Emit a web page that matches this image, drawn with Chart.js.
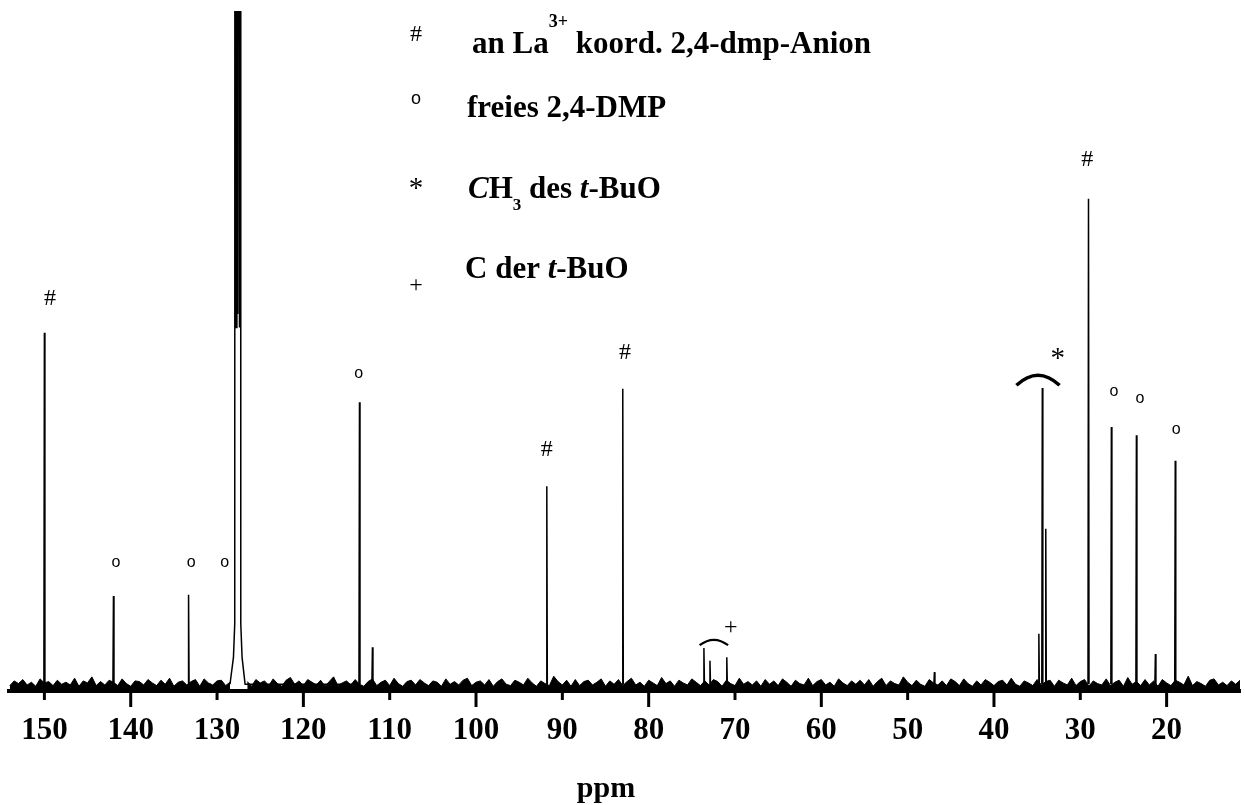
<!DOCTYPE html>
<html>
<head>
<meta charset="utf-8">
<title>13C-NMR</title>
<script src="https://cdn.jsdelivr.net/npm/chart.js@4"></script>
<style>
    body { margin: 0; background: #fff; }
    canvas { display: block; }
</style>
</head>
<body>
<canvas id="spectrum" width="1245" height="805"></canvas>
<script>
// tick labels on the ppm axis
const tickLabels = [150, 140, 130, 120, 110, 100, 90, 80, 70, 60, 50, 40, 30, 20];

// signals: shift (ppm) and intensity
const peakShift = [150.0, 142.0, 133.3, 113.5, 112.0, 91.8, 83.0,
    73.6, 72.9, 70.95, 46.9, 34.8, 34.4, 34.0, 29.05, 26.4, 23.5, 21.3, 19.0];
const peakHeight = [52.2, 13.1, 13.3, 41.9, 5.5, 29.4, 43.9,
    5.4, 3.5, 4.0, 1.8, 7.5, 44.0, 23.1, 72.1, 38.2, 37.0, 4.5, 33.2];

// solvent multiplet (C6D6), runs far off scale
const solventShift = [128.5, 128.1, 127.95, 127.9, 127.8, 127.7, 127.6, 127.5, 127.4, 127.3, 127.25, 127.1, 126.75];
const solventLevel = [0, 4, 9, 400, 53, 400, 55, 400, 53, 400, 9, 4, 0];

// baseline noise in tenths of a unit, one value every 0.5 ppm from 154 down to 11.5
const noiseStart = 154;
const noiseStep = 0.5;
const noise = [
    -2, 5, 1, 7, -1, 3, -3, 8, 2, 4, -2, 6, 0, 3, -1, 9, -3, 5, 2, 11, -2, 4,
    -1, 6, 3, -2, 8, 1, -3, 5, 4, -1, 7, 2, -2, 6, 0, 9, -3, 3, 5, -1, 4, 7,
    -3, 8, 2, -1, 5, 6, -2, 3, 0, 9, -1, 4, -3, 7, 2, 5, -2, 8, 1, -3, 6, 10,
    0, 5, -2, 7, 3, -1, 6, -3, 4, 11, -2, 2, 5, -1, 7, 0, -3, 4, 8, -2, 3, 6,
    -2, 9, 1, -3, 4, 6, -1, 7, 2, -2, 5, 3, -3, 8, 0, 4, -1, 6, 9, -2, 3, 5,
    -1, 7, -3, 4, 8, 0, -2, 6, 3, -1, 9, 2, -3, 5, 1, -2, 12, 4, -1, 6, -3, 7,
    -2, 4, 6, -1, 3, 8, -3, 5, 0, 7, -2, 4, 9, -1, 3, -3, 6, 2, -2, 10, 1, 5,
    -3, 6, 2, -1, 8, 3, -2, 5, -1, 7, 4, -3, 6, 1, -2, 9, 0, 4, -1, 5, -3, 7,
    0, 5, -2, 8, 3, -3, 6, 1, -1, 9, -2, 4, 7, -1, 3, -3, 8, 2, -2, 5, 0, 6,
    -1, 7, -3, 4, 9, -2, 5, 1, -1, 11, 3, -2, 6, 0, -3, 7, 2, -1, 5, -2, 8, 4,
    -2, 8, 1, -3, 5, -1, 7, 3, -2, 4, 6, -1, 9, 0, -3, 5, 2, -2, 7, -1, 4, 6,
    -3, 6, 2, -1, 9, -2, 4, 7, -3, 5, 1, -1, 8, -2, 3, 6, -3, 10, 0, 4, -2, 7,
    -1, 5, -3, 7, 2, -2, 6, 3, -1, 12, -2, 4, 1, -3, 6, 8, -1, 3, -2, 5, 0, 6
];

// assignment markers above the signals
const markSymbol = ['#', 'o', 'o', 'o', 'o', '#', '#', '+', '*', '#', 'o', 'o', 'o'];
const markShift = [149.35, 141.7, 133.0, 129.1, 113.6, 91.8, 82.75, 70.5, 32.6, 29.2, 26.1, 23.1, 18.9];
const markLevel = [57.2, 18.0, 18.0, 18.0, 46.1, 34.8, 49.3, 8.4, 48.9, 77.9, 43.4, 42.4, 37.9];

// brackets over grouped signals
const bracketFrom = [37.4, 74.1];
const bracketTo = [32.4, 70.8];
const bracketEnd = [44.4, 5.8];
const bracketTop = [45.9, 6.6];

// legend entries
const legendSymbol = ['#', 'o', '*', '+'];

function buildNoise() {
    const lo = Math.min(...solventShift);
    const hi = Math.max(...solventShift);
    return noise.map((n, i) => {
        const x = noiseStart - i * noiseStep;
        return {x: x, y: (x > lo && x < hi) ? null : n / 10};
    });
}

function buildPeaks() {
    const w = 0.06;
    const pts = [];
    peakShift.forEach((p, i) => {
        pts.push({x: p + w, y: 0}, {x: p, y: peakHeight[i]}, {x: p - w, y: 0}, {x: p - w - 0.01, y: null});
    });
    solventShift.forEach((s, i) => pts.push({x: s, y: solventLevel[i]}));
    pts.sort((a, b) => b.x - a.x);
    return pts;
}

function symbolFont(s, small) {
    if (s === 'o') {
        return (small ? 16 : 18) + 'px "Liberation Sans"';
    }
    return (s === '*' ? 29 : 24) + 'px "Liberation Serif"';
}

function drawRuns(ctx, x, y, runs) {
    runs.forEach(r => {
        ctx.font = r.font;
        ctx.fillText(r.text, x, y + (r.dy || 0));
        x += ctx.measureText(r.text).width;
    });
}

const decorations = {
    id: 'decorations',
    afterDraw(chart) {
        const ctx = chart.ctx;
        const xs = chart.scales.x;
        const ys = chart.scales.y;
        const area = chart.chartArea;
        ctx.save();
        ctx.fillStyle = '#000';
        ctx.strokeStyle = '#000';

        // tick marks, long every 20 ppm
        ctx.lineWidth = 3;
        tickLabels.forEach(v => {
            const px = xs.getPixelForValue(v);
            const len = v % 20 === 0 ? 16 : 9;
            ctx.beginPath();
            ctx.moveTo(px, area.bottom);
            ctx.lineTo(px, area.bottom + len);
            ctx.stroke();
        });

        // brackets
        bracketFrom.forEach((f, i) => {
            const x1 = xs.getPixelForValue(f);
            const x2 = xs.getPixelForValue(bracketTo[i]);
            const ye = ys.getPixelForValue(bracketEnd[i]);
            const yt = ys.getPixelForValue(bracketTop[i]);
            ctx.lineWidth = i === 0 ? 3.5 : 2.2;
            ctx.beginPath();
            ctx.moveTo(x1, ye);
            ctx.quadraticCurveTo((x1 + x2) / 2, 2 * yt - ye, x2, ye);
            ctx.stroke();
        });

        // markers
        ctx.textAlign = 'center';
        ctx.textBaseline = 'middle';
        markSymbol.forEach((s, i) => {
            ctx.font = symbolFont(s, true);
            const dy = s === '*' ? 4 : 0;
            ctx.fillText(s, xs.getPixelForValue(markShift[i]), ys.getPixelForValue(markLevel[i]) + dy);
        });

        // legend
        const symY = [35, 99, 189, 286];
        legendSymbol.forEach((s, i) => {
            ctx.font = symbolFont(s, false);
            ctx.fillText(s, 416, symY[i]);
        });
        ctx.textAlign = 'left';
        ctx.textBaseline = 'alphabetic';
        const bold = 'bold 31px "Liberation Serif"';
        const boldIt = 'italic bold 31px "Liberation Serif"';
        drawRuns(ctx, 472, 53, [
            {text: 'an La', font: bold},
            {text: '3+', font: 'bold 18px "Liberation Serif"', dy: -26},
            {text: ' koord. 2,4-dmp-Anion', font: bold}
        ]);
        drawRuns(ctx, 467, 117, [{text: 'freies 2,4-DMP', font: bold}]);
        drawRuns(ctx, 468, 198, [
            {text: 'C', font: boldIt},
            {text: 'H', font: bold},
            {text: '3', font: 'bold 17px "Liberation Serif"', dy: 12},
            {text: ' des ', font: bold},
            {text: 't', font: boldIt},
            {text: '-BuO', font: bold}
        ]);
        drawRuns(ctx, 465, 278, [
            {text: 'C der ', font: bold},
            {text: 't', font: boldIt},
            {text: '-BuO', font: bold}
        ]);

        // axis title
        ctx.textAlign = 'center';
        ctx.font = 'bold 30px "Liberation Serif"';
        ctx.fillText('ppm', 606, 797);
        ctx.restore();
    }
};

function spectrumChart(id) {
    const data = {
        datasets: [{
                data: buildPeaks(),
                borderColor: '#000',
                borderWidth: 1.5,
                pointRadius: 0,
                tension: 0,
                spanGaps: false,
                fill: false
            }, {
                data: buildNoise(),
                borderColor: '#000',
                backgroundColor: '#000',
                borderWidth: 1,
                pointRadius: 0,
                tension: 0,
                spanGaps: false,
                fill: 'start'
            }]
    };
    const config = {
        type: 'line',
        data: data,
        options: {
            responsive: false,
            animation: false,
            events: [],
            layout: {
                padding: {left: 9, right: 5, top: 11, bottom: 50}
            },
            plugins: {
                legend: {display: false},
                tooltip: {enabled: false}
            },
            scales: {
                x: {
                    type: 'linear',
                    reverse: true,
                    min: 11.5,
                    max: 154.1,
                    grid: {display: false, drawTicks: false},
                    border: {display: true, color: '#000', width: 4},
                    afterBuildTicks: axis => {
                        axis.ticks = tickLabels.map(v => ({value: v}));
                    },
                    afterFit: axis => {
                        axis.height = 64;
                        axis.paddingLeft = 0;
                        axis.paddingRight = 0;
                    },
                    ticks: {
                        autoSkip: false,
                        maxRotation: 0,
                        padding: 21,
                        color: '#000',
                        font: {family: '"Liberation Serif"', size: 31, weight: 'bold'},
                        callback: v => String(v)
                    }
                },
                y: {
                    display: false,
                    min: -1,
                    max: 100
                }
            }
        },
        plugins: [decorations]
    };
    let ctx = document.getElementById(id).getContext("2d");
    new Chart(ctx, config);
}

spectrumChart('spectrum');
</script>
</body>
</html>
